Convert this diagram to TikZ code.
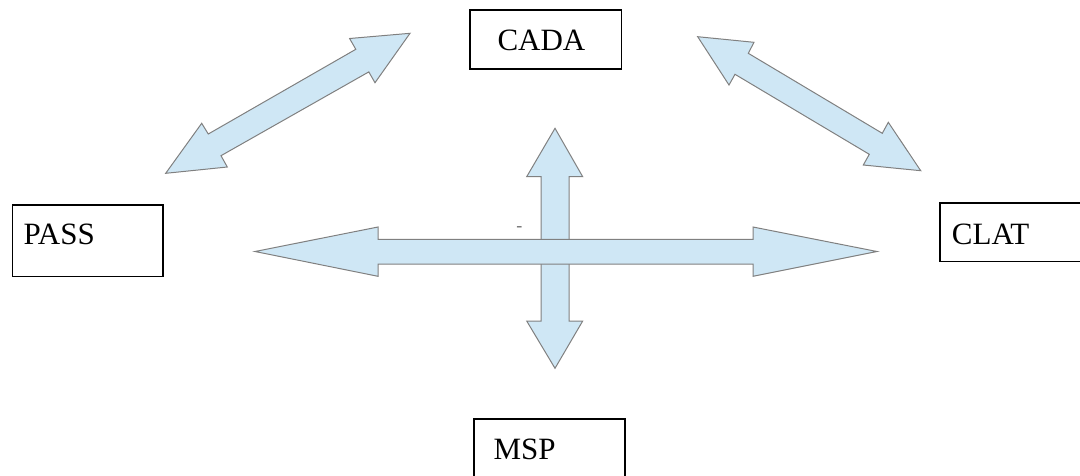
\documentclass[tikz,border=0pt]{standalone}
\usepackage{fontspec}
\setmainfont{Liberation Serif}
\definecolor{arrfill}{HTML}{CFE7F5}
\definecolor{arrline}{HTML}{808080}
\definecolor{markgray}{HTML}{6E6E6E}
\begin{document}
\begin{tikzpicture}[x=1pt,y=-1pt,
  box/.style={draw=black, line width=1.2pt, rectangle, inner sep=0pt, anchor=north west},
  lbl/.style={font=\fontsize{31}{37}\selectfont, inner sep=0pt, anchor=base west},
  fatarrow/.style={fill=arrfill, draw=arrline, line width=1pt, line join=miter},
  dashmark/.style={text=markgray, font=\fontsize{18}{18}\selectfont, inner sep=0pt}]
\useasboundingbox (0,0) rectangle (1080,475);
\clip (0,0) rectangle (1080,475);

% boxes
\node[box, minimum width=151.4pt, minimum height=59pt] (cada) at (469.3,9.3) {};
\node[lbl] (cadat) at (497.3,50) {CADA};
\node[box, minimum width=150.6pt, minimum height=71.7pt] (pass) at (11.7,204.3) {};
\node[lbl] (passt) at (23.3,244.3) {PASS};
\node[box, minimum width=160pt, minimum height=58.7pt] (clat) at (939.3,202.3) {};
\node[lbl] (clatt) at (951.7,244) {CLAT};
\node[box, minimum width=151pt, minimum height=80pt] (msp) at (473.3,418.3) {};
\node[lbl] (mspt) at (493.3,459) {MSP};

% diagonal arrow PASS <-> CADA
\draw[fatarrow] (410,33.3) -- (349.6,38.5) -- (355.8,49.3) -- (208.3,134) -- (201.7,123.3)
  -- (165.7,173.3) -- (227.3,167) -- (221,155.7) -- (368.8,71.9) -- (375,82.7) -- cycle;

% diagonal arrow CADA <-> CLAT
\draw[fatarrow] (697.7,36.7) -- (754,42.3) -- (748.3,53.3) -- (882.3,133.3) -- (888.3,122.3)
  -- (920.7,170.7) -- (863.3,165) -- (869.3,154.3) -- (735,74.3) -- (729,85) -- cycle;

% vertical arrow
\draw[fatarrow] (555,128.3) -- (582.7,176.7) -- (569,176.7) -- (569,321) -- (582.7,321)
  -- (555,368.3) -- (526.7,321) -- (541,321) -- (541,176.7) -- (526.7,176.7) -- cycle;

% horizontal arrow
\draw[fatarrow] (255,251.5) -- (378,227) -- (378,239.3) -- (753,239.3) -- (753,227)
  -- (877,251.5) -- (753,276.3) -- (753,264) -- (378,264) -- (378,276.3) -- cycle;

% small mark
\node[dashmark, anchor=base] (mark) at (519.3,231) {-};
\end{tikzpicture}
\end{document}
